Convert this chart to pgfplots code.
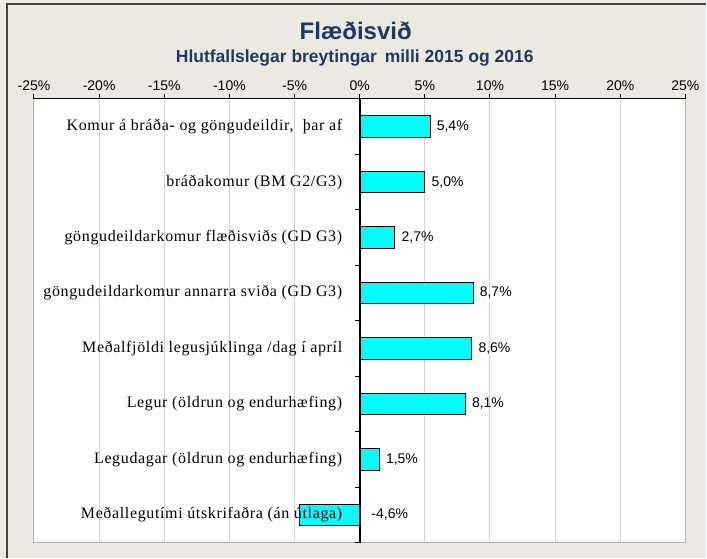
\documentclass[border=0pt]{standalone}
\usepackage{pgfplots}
\pgfplotsset{compat=1.18}
\usepackage{fontspec}
\setmainfont{Liberation Serif}
\newfontfamily\arial{Liberation Sans}
\newfontfamily\labfont[LetterSpace=4]{Liberation Serif}
\definecolor{beige}{RGB}{236,233,224}
\definecolor{navy}{RGB}{31,56,100}
\definecolor{gridgray}{RGB}{212,212,212}
\definecolor{barcyan}{RGB}{0,255,255}
\pgfplotsset{
  common/.style={
    at={(34pt,15pt)}, anchor=south west,
    width=652pt, height=444pt, scale only axis,
    xmin=-25, xmax=25, ymin=0.5, ymax=8.5, y dir=reverse,
  }
}
\begin{document}
\begin{tikzpicture}[x=1pt,y=1pt]
\fill[beige] (0,0) rectangle (707,558);
\draw[black!75, line width=1.2pt] (7,0) -- (7,554) -- (707,554);
\node[anchor=base, text=navy, font=\arial\bfseries\fontsize{24}{28}\selectfont] at (356,518) {Flæðisvið};
\node[anchor=base, text=navy, font=\arial\bfseries\fontsize{17.5}{20}\selectfont] at (355,495) {Hlutfallslegar breytingar\, milli 2015 og 2016};
% underlay: background and grid
\begin{axis}[
  common,
  axis background/.style={fill=white},
  axis line style={black!30, line width=1pt},
  xtick={-25,-20,...,25}, xticklabels={}, ytick=\empty,
  major tick length=0pt,
  xmajorgrids, major grid style={gridgray, line width=1pt},
]
\end{axis}
% main axis
\begin{axis}[
  common,
  axis on top,
  xbar, bar width=21.5pt, bar shift=0pt,
  axis x line*=top, axis y line*=middle,
  hide obscured x ticks=false, hide obscured y ticks=false,
  xtick={-25,-20,...,25},
  xticklabels={-25\%,-20\%,-15\%,-10\%,-5\%,0\%,5\%,10\%,15\%,20\%,25\%},
  xticklabel style={font=\arial\fontsize{14}{16}\selectfont},
  tick align=outside,
  major tick length=5pt,
  ytick={0.5,1.5,...,8.5}, yticklabels={},
  extra y ticks={1,...,8},
  extra y tick labels={{Komur á bráða- og göngudeildir,\ \ þar af},{bráðakomur (BM G2/G3)},{göngudeildarkomur flæðisviðs (GD G3)},{göngudeildarkomur annarra sviða (GD G3)},{Meðalfjöldi legusjúklinga /dag í apríl},{Legur (öldrun og endurhæfing)},{Legudagar (öldrun og endurhæfing)},{Meðallegutími útskrifaðra (án útlaga)}},
  extra y tick style={major tick length=0pt, yticklabel style={font=\labfont\fontsize{16}{18}\selectfont, xshift=-14pt}},
  every tick/.style={black, line width=1pt},
  x axis line style={black, line width=1pt, -},
  y axis line style={black, line width=2pt, -},
  /pgf/number format/assume math mode=true,
  clip=false,
]
\addplot[fill=barcyan, draw=black, line width=0.9pt,
  nodes near coords, point meta=explicit symbolic,
  every node near coord/.append style={font=\arial\fontsize{14}{16}\selectfont, anchor=west, xshift=3pt, text=black}]
  coordinates {(5.4,1)[5,4\%] (5.0,2)[5,0\%] (2.7,3)[2,7\%] (8.7,4)[8,7\%] (8.6,5)[8,6\%] (8.1,6)[8,1\%] (1.5,7)[1,5\%]};
\addplot[fill=barcyan, draw=black, line width=0.9pt,
  nodes near coords, point meta=explicit symbolic,
  every node near coord/.append style={font=\arial\fontsize{14}{16}\selectfont, anchor=west, xshift=68pt, text=black}]
  coordinates {(-4.6,8)[-4,6\%]};
\end{axis}
\end{tikzpicture}
\end{document}
